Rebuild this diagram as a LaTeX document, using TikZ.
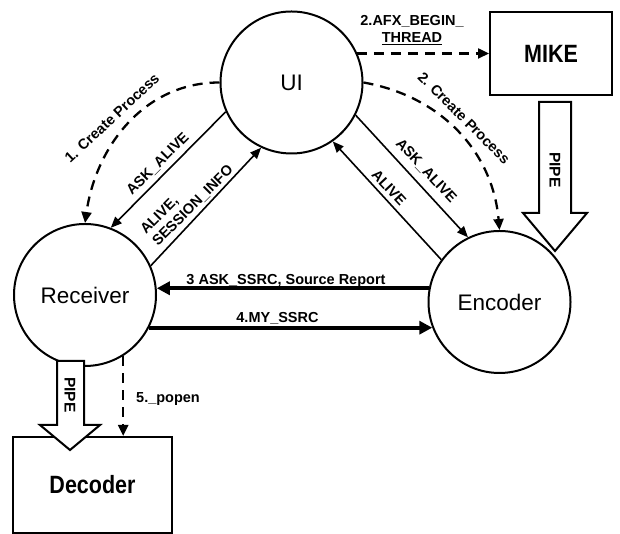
\documentclass[tikz,border=0pt]{standalone}
\usepackage{fontspec}
\setmainfont{Liberation Sans}
\newfontfamily\boxfont[FakeStretch=0.86]{Liberation Sans}
\usetikzlibrary{arrows.meta}
\begin{document}
\begin{tikzpicture}[x=1pt,y=1pt,
  proc/.style={circle,draw,line width=2pt,minimum size=142pt,inner sep=0pt,font=\fontsize{22.5}{26}\selectfont},
  ext/.style={rectangle,draw,line width=2pt,inner sep=0pt,font=\boxfont\bfseries\fontsize{25}{28}\selectfont},
  lbl/.style={font=\bfseries\fontsize{14.5}{17}\selectfont,inner sep=0pt},
  flow/.style={line width=1.6pt,-{Triangle[length=11pt,width=9pt]}},
  bigflow/.style={line width=3.8pt,-{Triangle[length=13pt,width=13pt]}},
  dflow/.style={line width=2.3pt,dash pattern=on 10pt off 7pt,-{Triangle[length=11pt,width=10pt]}},
  pipe/.style={draw,line width=2pt,fill=white,line join=miter}
]
\useasboundingbox (0,0) rectangle (620,534);

% nodes
\node[proc] (ui) at (291.5,451.5) {UI};
\node[proc] (rec) at (85,239) {Receiver};
\node[proc] (enc) at (499.5,232) {Encoder};
\node[ext,minimum width=122pt,minimum height=83pt] (mike) at (551,480.5) {MIKE};
\node[ext,minimum width=159pt,minimum height=96pt] (dec) at (92.5,49) {Decoder};

% pipes
\draw[pipe] (539,432) -- (571,432) -- (571,321) -- (587,321) -- (555,283) -- (523,321) -- (539,321) -- cycle;
\draw[pipe] (57,173) -- (84,173) -- (84,109) -- (100,109) -- (70,84) -- (40,109) -- (57,109) -- cycle;
\node[lbl,font=\bfseries\fontsize{15.5}{18}\selectfont,rotate=-90] (pipe1) at (555,364) {PIPE};
\node[lbl,font=\bfseries\fontsize{15.5}{18}\selectfont,rotate=-90] (pipe2) at (70,139) {PIPE};

% dashed flows
\draw[dflow] (mike.west -| ui.25.4) -- (mike.west);
\draw[dflow] (ui.west) to[out=180,in=82] (rec.north);
\draw[dflow] (ui.east) to[out=-10,in=95] (enc.north);
\draw[dflow] (rec.-58.6) -- (rec.-58.6 |- dec.north);

% solid diagonal flows
\draw[flow] (ui.204.6) -- (rec.69.5);
\draw[flow] (rec.24) -- (ui.245.8);
\draw[flow] (ui.-27) -- (enc.116);
\draw[flow] (enc.144.8) -- (ui.305.2);

% horizontal flows
\draw[bigflow] (enc.169.45) -- (enc.169.45 -| rec.4.85);
\draw[bigflow] (rec.-27.7) -- (rec.-27.7 -| enc.201.5);

% labels
\node[lbl,align=center] (afx) at (412,504) {2.AFX\_BEGIN\_\\\underline{THREAD}};
\node[lbl,rotate=43] (cp1) at (112,416) {1. Create Process};
\node[lbl,rotate=-45] (cp2) at (464,416) {2. Create Process};
\node[lbl,rotate=45] (ask1) at (158,370) {ASK\_ALIVE};
\node[lbl,rotate=45,align=left] (alive1) at (187,334) {ALIVE,\\SESSION\_INFO};
\node[lbl,rotate=-47] (ask2) at (426,363) {ASK\_ALIVE};
\node[lbl,rotate=-47] (alive2) at (389,346) {ALIVE};
\node[lbl,anchor=base] (ssrc) at (286,249) {3 ASK\_SSRC, Source Report};
\node[lbl,anchor=base] (my) at (277.5,211) {4.MY\_SSRC};
\node[lbl,anchor=base west] (popen) at (136,131) {5.\_popen};
\end{tikzpicture}
\end{document}
